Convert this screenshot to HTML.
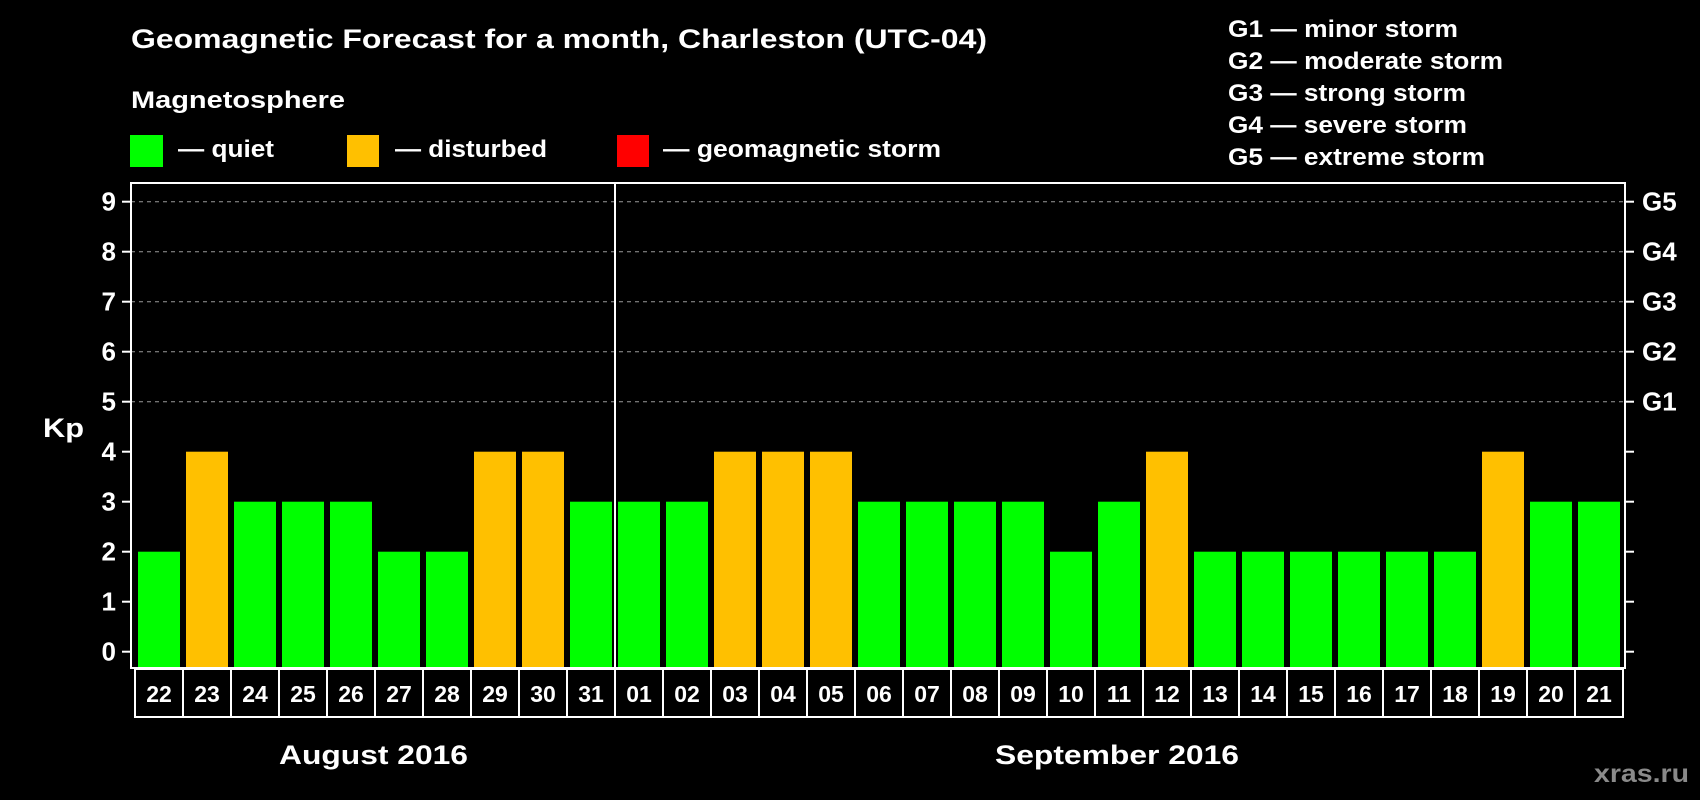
<!DOCTYPE html>
<html><head><meta charset="utf-8"><style>
html,body{margin:0;padding:0;background:#000;width:1700px;height:800px;overflow:hidden}
svg{display:block;font-family:"Liberation Sans",Arial,sans-serif;font-weight:bold}
</style></head><body>
<svg id="chart" width="1700" height="800" viewBox="0 0 1700 800" xmlns="http://www.w3.org/2000/svg">
<rect width="1700" height="800" fill="#000"/>
<text x="131" y="48" fill="#fff" font-size="27" textLength="856" lengthAdjust="spacingAndGlyphs">Geomagnetic Forecast for a month, Charleston (UTC-04)</text>
<text x="131" y="108" fill="#fff" font-size="24" textLength="214" lengthAdjust="spacingAndGlyphs">Magnetosphere</text>
<g><rect x="130" y="135" width="33" height="32" fill="#00ff00"/><text x="178" y="157" fill="#fff" font-size="24" textLength="96" lengthAdjust="spacingAndGlyphs">— quiet</text></g>
<g><rect x="347" y="135" width="32" height="32" fill="#ffc000"/><text x="395" y="157" fill="#fff" font-size="24" textLength="152" lengthAdjust="spacingAndGlyphs">— disturbed</text></g>
<g><rect x="617" y="135" width="32" height="32" fill="#ff0000"/><text x="663" y="157" fill="#fff" font-size="24" textLength="278" lengthAdjust="spacingAndGlyphs">— geomagnetic storm</text></g>
<g fill="#fff" font-size="24">
<text x="1228" y="37" textLength="230" lengthAdjust="spacingAndGlyphs">G1 — minor storm</text>
<text x="1228" y="69" textLength="275" lengthAdjust="spacingAndGlyphs">G2 — moderate storm</text>
<text x="1228" y="101" textLength="238" lengthAdjust="spacingAndGlyphs">G3 — strong storm</text>
<text x="1228" y="133" textLength="239" lengthAdjust="spacingAndGlyphs">G4 — severe storm</text>
<text x="1228" y="165" textLength="257" lengthAdjust="spacingAndGlyphs">G5 — extreme storm</text>
</g>
<text x="43" y="437" fill="#fff" font-size="27" textLength="41" lengthAdjust="spacingAndGlyphs">Kp</text>
<g id="grid"></g><g id="bars"></g><g id="axes"></g>
<text x="279" y="764" fill="#fff" font-size="27" textLength="189" lengthAdjust="spacingAndGlyphs">August 2016</text>
<text x="995" y="764" fill="#fff" font-size="27" textLength="244" lengthAdjust="spacingAndGlyphs">September 2016</text>
<text x="1594" y="782" fill="#8a8a8a" font-size="25" textLength="95" lengthAdjust="spacingAndGlyphs">xras.ru</text>
</svg>
<script>
const days = ["22","23","24","25","26","27","28","29","30","31","01","02","03","04","05","06","07","08","09","10","11","12","13","14","15","16","17","18","19","20","21"];
const kpValues = [2,4,3,3,3,2,2,4,4,3,3,3,4,4,4,3,3,3,3,2,3,4,2,2,2,2,2,2,4,3,3];
const yTicks = [0,1,2,3,4,5,6,7,8,9];
const gLabels = ["","","","","","G1","G2","G3","G4","G5"];
const monthBreakIndex = 10;

const NS="http://www.w3.org/2000/svg";
const pLeft=131,pRight=1625,pTop=183,pBottom=668;
const y0=651.7,unit=50;
const yScale=v=>y0-v*unit;
const pitch=48,barW=42,bar0=138;
const xScale=i=>bar0+i*pitch;
function mk(tag,attrs,parent){const e=document.createElementNS(NS,tag);for(const k in attrs)e.setAttribute(k,attrs[k]);parent.appendChild(e);return e;}
const grid=document.getElementById('grid'),bars=document.getElementById('bars'),axes=document.getElementById('axes');
yTicks.forEach((t,i)=>{
  const y=yScale(t);
  if(t>=5){const g=mk('line',{x1:pLeft,x2:pRight,y1:y,y2:y,stroke:'#999','stroke-width':1,'stroke-dasharray':'4,4'},grid);
  
  }
  const tl=mk('line',{x1:pLeft-9,x2:pLeft,y1:y,y2:y,stroke:'#fff','stroke-width':2},axes);
  
  
  const tr=mk('line',{x1:pRight,x2:pRight+9,y1:y,y2:y,stroke:'#fff','stroke-width':2},axes);
  
  
  const lb=mk('text',{x:116,y:y+9,fill:'#fff','font-size':26,'text-anchor':'end'},axes);
  lb.textContent=t;
  
  
  if(gLabels[i]){const gl=mk('text',{x:1642,y:y+9,fill:'#fff','font-size':26},axes);
  gl.textContent=gLabels[i];
  
  }
});
kpValues.forEach((v,i)=>{
  const x=xScale(i),y=yScale(v);
  const r=mk('rect',{x:x,y:y,width:barW,height:pBottom-y,fill:v>=5?'#ff0000':(v>=4?'#ffc000':'#00ff00')},bars);
  
  
  const bx=x-3;
  const b=mk('rect',{x:bx,y:669,width:pitch,height:48,fill:'none',stroke:'#fff','stroke-width':2},axes);
  
  
  const t=mk('text',{x:bx+pitch/2,y:702,fill:'#fff','font-size':23,'text-anchor':'middle'},axes);
  t.textContent=days[i];
  
  
});
const frame=mk('rect',{x:pLeft,y:pTop,width:pRight-pLeft,height:pBottom-pTop,fill:'none',stroke:'#fff','stroke-width':2},axes);


const sx=xScale(monthBreakIndex)-3;
const sep=mk('line',{x1:sx,x2:sx,y1:pTop,y2:pBottom,stroke:'#fff','stroke-width':2},axes);


</script>
</body></html>
